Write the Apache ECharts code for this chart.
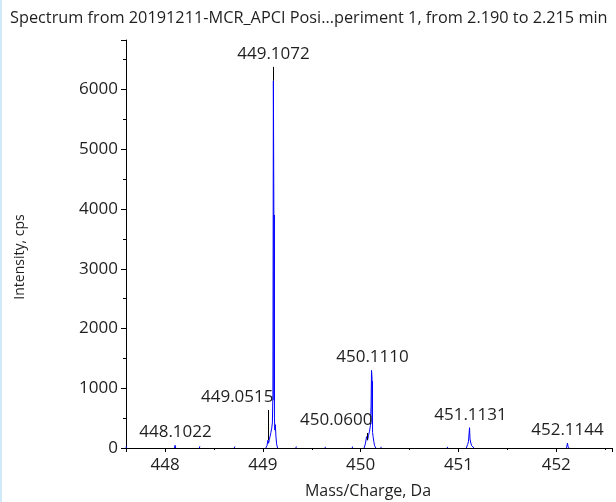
<!DOCTYPE html>
<html>
<head>
<meta charset="utf-8">
<script src="https://cdn.jsdelivr.net/npm/echarts@6/dist/echarts.min.js"></script>
<style>
  html, body { margin: 0; padding: 0; background: #fff; }
  #edge { position: absolute; left: 0; top: 0; width: 2px; height: 502px; background: #cfe9f8; }
  #chart { width: 616px; height: 502px; }
</style>
</head>
<body>
<div id="chart"></div>
<div id="edge"></div>
<script>
const titleText = 'Spectrum from 20191211-MCR_APCI Posi...periment 1, from 2.190 to 2.215 min';
const xAxisTitle = 'Mass/Charge, Da';
const yAxisTitle = 'Intensity, cps';

// Profile trace (m/z, cps); null starts a new cluster
const profileMz = [
  447.601, 447.604, 447.608, null,
  448.096, 448.1022, 448.108, null,
  448.350, 448.355, 448.360, null,
  448.707, 448.713, 448.719, null,
  449.030, 449.042, 449.0515, 449.058, 449.066, 449.074, 449.082, 449.090, 449.097, 449.1022,
  449.1072, 449.1122, 449.1140, 449.1160, 449.1180, 449.122, 449.127, 449.133, 449.140, 449.150, null,
  449.337, 449.342, 449.347, null,
  449.635, 449.640, 449.645, null,
  449.913, 449.918, 449.923, null,
  450.035, 450.048, 450.0600, 450.070, 450.080, 450.090, 450.100, 450.106,
  450.1110, 450.1160, 450.1178, 450.1196, 450.1215, 450.127, 450.134, 450.142, 450.155, null,
  450.205, 450.210, 450.215, null,
  450.885, 450.890, 450.895, null,
  451.080, 451.094, 451.102, 451.108, 451.1131, 451.118, 451.124, 451.134, 451.160, null,
  452.105, 452.1144, 452.121, 452.130
];
const profileIntensity = [
  0, 30, 0, null,
  0, 45, 0, null,
  0, 30, 0, null,
  0, 25, 0, null,
  0, 40, 130, 80, 140, 200, 260, 330, 420, 900,
  6150, 3950, 800, 3900, 500, 300, 390, 200, 70, 0, null,
  0, 25, 0, null,
  0, 20, 0, null,
  0, 25, 0, null,
  0, 70, 190, 130, 210, 280, 380, 700,
  1300, 1160, 400, 1120, 260, 190, 110, 40, 0, null,
  0, 20, 0, null,
  0, 20, 0, null,
  0, 60, 105, 110, 340, 150, 100, 40, 0, null,
  0, 80, 25, 0
];

// Annotated peaks: leader runs from leaderFrom up to leaderTo (cps)
const peakLabels = ['448.1022', '449.0515', '449.1072', '450.0600', '450.1110', '451.1131', '452.1144'];
const peakMz     = [448.1022, 449.0515, 449.1072, 450.0600, 450.1110, 451.1131, 452.1144];
const leaderFrom = [45, 134, 6150, 134, 1300, 340, 80];
const leaderTo   = [45, 636, 6380, 251, 1300, 340, 80];

const yTickMax = 6830;
const labelFont = '"Open Sans", "Noto Sans", sans-serif';
const ink = '#1f1f1f';

// labels set to the left of their leader so they clear the neighbouring peak
const leftSideLabels = ['449.0515', '450.0600'];

const profileData = profileMz.map((m, i) =>
  m === null ? ['-', '-'] : [m, profileIntensity[i]]
);
const peakData = peakMz.map((m, i) => [m, leaderFrom[i], leaderTo[i]]);

const chart = echarts.init(document.getElementById('chart'), null, { renderer: 'canvas' });

chart.setOption({
  animation: false,
  backgroundColor: '#ffffff',
  grid: { left: 126, right: 4, top: 40, bottom: 54, containLabel: false },
  graphic: [
    {
      type: 'text', x: 10, y: 18,
      style: { text: titleText, font: '16.3px ' + labelFont, fill: ink, align: 'left', verticalAlign: 'middle' }
    },
    {
      type: 'text', x: 368, y: 491,
      style: { text: xAxisTitle, font: '16px ' + labelFont, fill: ink, align: 'center', verticalAlign: 'middle' }
    },
    {
      type: 'text', x: 20, y: 257, rotation: Math.PI / 2,
      style: { text: yAxisTitle, font: '14px ' + labelFont, fill: ink, align: 'center', verticalAlign: 'middle' }
    }
  ],
  xAxis: {
    type: 'value',
    min: 447.6,
    max: 452.57,
    splitLine: { show: false },
    axisLine: { show: true, onZero: false, lineStyle: { color: '#000', width: 1 } },
    axisTick: { show: true, length: 4, lineStyle: { color: '#000' } },
    minorTick: { show: true, splitNumber: 2, length: 2, lineStyle: { color: '#000' } },
    axisLabel: {
      showMinLabel: false, showMaxLabel: false,
      margin: 9, color: ink, fontSize: 17, fontFamily: labelFont,
      formatter: v => String(v)
    }
  },
  yAxis: {
    type: 'value',
    min: 0,
    max: yTickMax,
    interval: 1000,
    splitLine: { show: false },
    axisLine: { show: true, lineStyle: { color: '#000', width: 1 } },
    axisTick: { show: true, length: 5, lineStyle: { color: '#000' } },
    minorTick: { show: true, splitNumber: 2, length: 3, lineStyle: { color: '#000' } },
    axisLabel: {
      showMaxLabel: false,
      margin: 8, color: ink, fontSize: 17, fontFamily: labelFont,
      formatter: v => String(v)
    }
  },
  series: [
    {
      type: 'line',
      data: profileData,
      symbol: 'none',
      connectNulls: false,
      lineStyle: { color: '#0000ff', width: 1, join: 'bevel', cap: 'butt' },
      z: 2
    },
    {
      type: 'custom',
      data: peakData,
      encode: { x: 0, y: [1, 2] },
      z: 3,
      renderItem: function (params, api) {
        const i = params.dataIndex;
        const bottom = api.coord([api.value(0), api.value(1)]);
        const top = api.coord([api.value(0), api.value(2)]);
        const x = Math.round(bottom[0]) + 0.5;
        const children = [];
        if (bottom[1] - top[1] > 1) {
          children.push({
            type: 'line',
            shape: { x1: x, y1: bottom[1], x2: x, y2: top[1] },
            style: { stroke: '#000', lineWidth: 1 }
          });
        }
        const onLeft = leftSideLabels.indexOf(peakLabels[i]) >= 0;
        children.push({
          type: 'text',
          x: onLeft ? x + 5 : x,
          y: top[1] - 13,
          style: {
            text: peakLabels[i],
            font: '17px ' + labelFont,
            fill: ink,
            align: onLeft ? 'right' : 'center',
            verticalAlign: 'middle'
          }
        });
        return { type: 'group', children: children };
      }
    }
  ]
});
</script>
</body>
</html>
